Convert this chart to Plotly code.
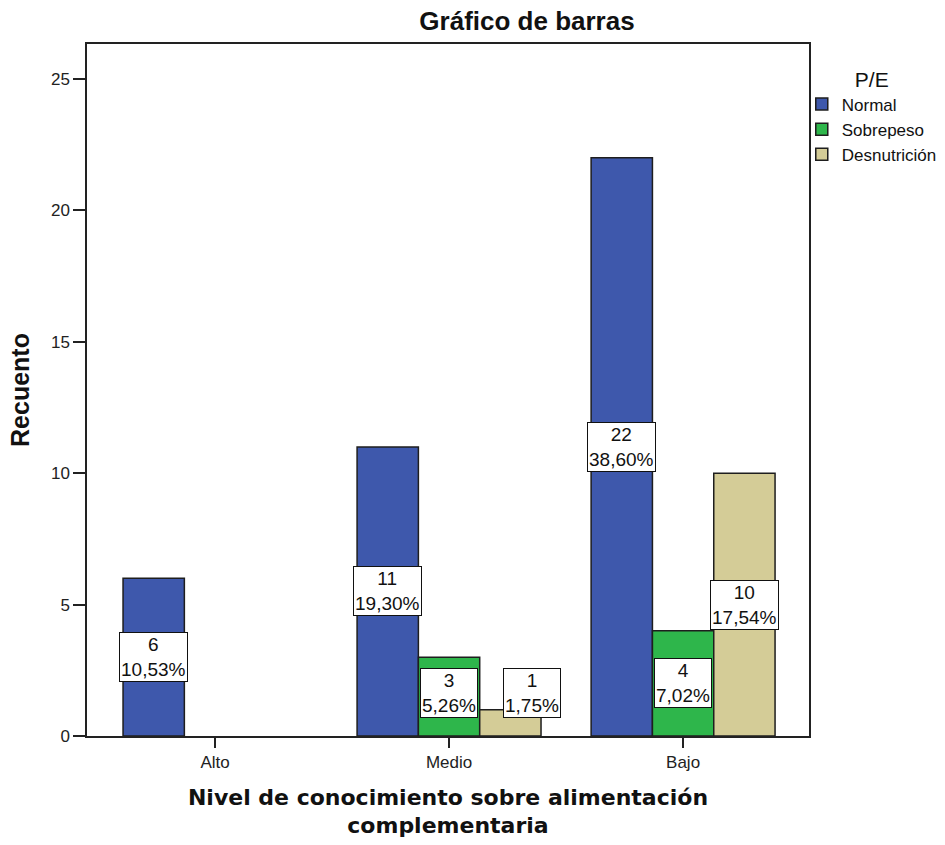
import plotly.graph_objects as go

# Counts by knowledge level and nutritional status (P/E)
categories = ["Alto", "Medio", "Bajo"]
series_names = ["Normal", "Sobrepeso", "Desnutrición"]
normal = [6, 11, 22]
sobrepeso = [None, 3, 4]
desnutricion = [None, 1, 10]
series_values = [normal, sobrepeso, desnutricion]
series_colors = ["#3E58AC", "#2EB64B", "#D4CC97"]
y_ticks = [0, 5, 10, 15, 20, 25]

total = sum(v for vals in series_values for v in vals if v is not None)

BARGAP = 0.214
n_series = len(series_values)
slot = (1 - BARGAP) / n_series

fig = go.Figure()
for name, vals, color in zip(series_names, series_values, series_colors):
    fig.add_trace(go.Bar(
        x=categories,
        y=vals,
        name=name,
        marker=dict(color=color, line=dict(color="#1E1E1E", width=1.5)),
    ))

# Boxed count / percentage labels on each bar
annotations = []
for j, vals in enumerate(series_values):
    for i, v in enumerate(vals):
        if v is None:
            continue
        pct = f"{v / total * 100:.2f}".replace(".", ",") + "%"
        small = v / 2 < 1
        annotations.append(dict(
            x=i + (j - (n_series - 1) / 2) * slot,
            y=max(v / 2, 1.65),
            xref="x", yref="y",
            text=f"{v}<br>{pct}",
            showarrow=False,
            xshift=22 if small else 0,
            font=dict(family="Liberation Sans, Arial", size=19, color="#111"),
            bgcolor="white",
            bordercolor="#111",
            borderwidth=1,
            borderpad=1,
            align="center",
        ))

fig.update_layout(
    width=945,
    height=845,
    autosize=False,
    margin=dict(l=87, r=136, t=44, b=109, autoexpand=False),
    paper_bgcolor="white",
    plot_bgcolor="white",
    barmode="group",
    bargap=BARGAP,
    bargroupgap=0,
    title=dict(
        text="<b>Gráfico de barras</b>",
        x=527 / 945, xref="container", xanchor="center",
        y=1 - 21 / 845, yref="container", yanchor="middle",
        font=dict(family="Liberation Sans, Arial", size=26, color="#111"),
    ),
    xaxis=dict(
        type="category",
        range=[-0.547, 2.538],
        showline=True, mirror=True, linecolor="#222", linewidth=1.5,
        ticks="outside", ticklen=10, tickcolor="#222", tickwidth=1.5,
        tickfont=dict(family="Liberation Sans, Arial", size=17, color="#222"),
        showgrid=False, zeroline=False,
        title=dict(
            text="<b>Nivel de conocimiento sobre alimentación<br>complementaria</b>",
            font=dict(family="DejaVu Sans", size=22, color="#111"),
            standoff=18,
        ),
    ),
    yaxis=dict(
        range=[0, 26.33],
        tickvals=y_ticks,
        showline=True, mirror=True, linecolor="#222", linewidth=1.5,
        ticks="outside", ticklen=12, tickcolor="#222", tickwidth=1.5,
        tickfont=dict(family="Liberation Sans, Arial", size=17, color="#222"),
        showgrid=False, zeroline=False,
        title=dict(
            text="<b>Recuento</b>",
            font=dict(family="Liberation Sans, Arial", size=25, color="#111"),
            standoff=14,
        ),
    ),
    legend=dict(
        x=0.99, xanchor="left",
        y=0.978, yanchor="top",
        bgcolor="rgba(0,0,0,0)",
        font=dict(family="Liberation Sans, Arial", size=17, color="#111"),
        title=dict(text="P/E", side="top center",
                   font=dict(family="Liberation Sans, Arial", size=21, color="#111")),
        itemwidth=30,
        tracegroupgap=0,
    ),
    annotations=annotations,
)

fig.write_html("out.html")
